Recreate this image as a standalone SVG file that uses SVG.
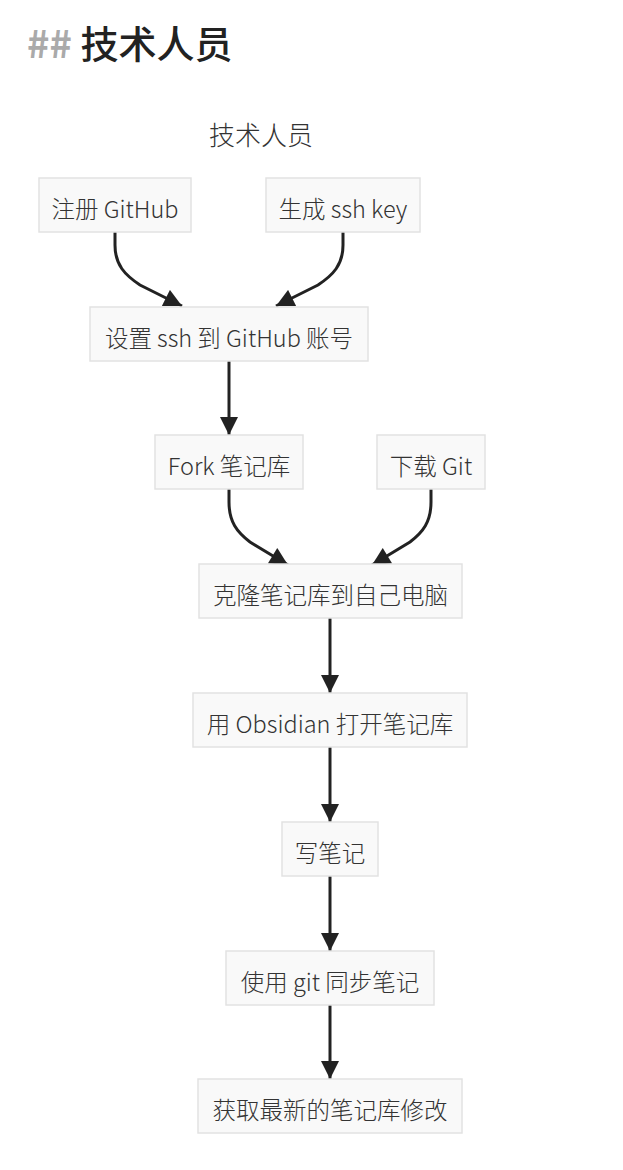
<svg xmlns="http://www.w3.org/2000/svg" width="623" height="1170" viewBox="0 0 623 1170">
<style>
  text { font-family: "Noto Sans CJK SC", "Noto Sans", sans-serif; }
  .node rect { fill: #f9f9f9; stroke: #e2e2e2; stroke-width: 1.5; }
  .node text { font-size: 23.5px; font-weight: 300; fill: #333; text-anchor: middle; dominant-baseline: central; }
  .edge { fill: none; stroke: #222; stroke-width: 3; marker-end: url(#arrow); }
  .hdr { font-size: 38px; font-weight: 500; }
</style>
<defs>
  <marker id="arrow" viewBox="0 0 10 10" refX="10" refY="5" markerUnits="userSpaceOnUse" markerWidth="19" markerHeight="18" orient="auto">
    <path d="M0,0 L10,5 L0,10 z" fill="#222"/>
  </marker>
</defs>
<rect width="623" height="1170" fill="#ffffff"/>
<text class="hdr" x="27" y="58"><tspan fill="#aaaaaa" font-weight="bold">##</tspan><tspan fill="#222222"> 技术人员</tspan></text>
<text x="261" y="133" font-size="26" font-weight="300" fill="#333" text-anchor="middle" dominant-baseline="central">技术人员</text>

<g id="connectors">
  <path class="edge" d="M115,232 L115,245 C115,265 125,275 140,285 L182,306"/>
  <path class="edge" d="M343,232 L343,245 C343,265 333,275 318,285 L276,306"/>
  <path class="edge" d="M229,361 L229,435"/>
  <path class="edge" d="M229,489 L229,502 C229,522 237,532 250,542 L288,565"/>
  <path class="edge" d="M431,489 L431,502 C431,522 423,532 410,542 L372,565"/>
  <path class="edge" d="M330,618 L330,693"/>
  <path class="edge" d="M330,747 L330,822"/>
  <path class="edge" d="M330,876 L330,951"/>
  <path class="edge" d="M330,1005 L330,1079"/>
</g>

<g id="n1" class="node"><rect x="39" y="178" width="152" height="54"/><text x="115" y="208">注册 GitHub</text></g>
<g id="n2" class="node"><rect x="266" y="178" width="154" height="54"/><text x="343" y="208">生成 ssh key</text></g>
<g id="n3" class="node"><rect x="90" y="307" width="278" height="54"/><text x="229" y="337">设置 ssh 到 GitHub 账号</text></g>
<g id="n4" class="node"><rect x="155" y="435" width="148" height="54"/><text x="229" y="465">Fork 笔记库</text></g>
<g id="n5" class="node"><rect x="377" y="435" width="108" height="54"/><text x="431" y="465">下载 Git</text></g>
<g id="n6" class="node"><rect x="199" y="564" width="263" height="54"/><text x="330.5" y="594">克隆笔记库到自己电脑</text></g>
<g id="n7" class="node"><rect x="193" y="693" width="274" height="54"/><text x="330" y="723">用 Obsidian 打开笔记库</text></g>
<g id="n8" class="node"><rect x="282" y="822" width="96" height="54"/><text x="330" y="852">写笔记</text></g>
<g id="n9" class="node"><rect x="226" y="951" width="208" height="54"/><text x="330" y="981">使用 git 同步笔记</text></g>
<g id="n10" class="node"><rect x="198" y="1079" width="264" height="54"/><text x="330" y="1109">获取最新的笔记库修改</text></g>
</svg>
